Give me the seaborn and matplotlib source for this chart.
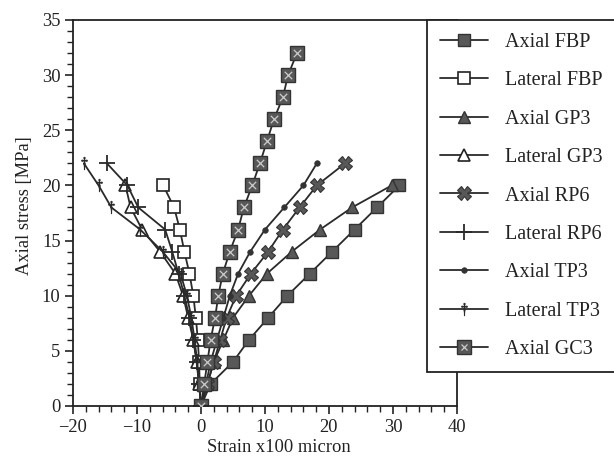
import numpy as np
import pandas as pd
import matplotlib
matplotlib.use("Agg")
import matplotlib.pyplot as plt
from matplotlib.lines import Line2D
from matplotlib.legend_handler import HandlerTuple
import seaborn as sns

# ---- data ----
y_fbp = [0, 2, 4, 6, 8, 10, 12, 14, 16, 18, 20]
axial_fbp = [0, 1.5, 5, 7.5, 10.5, 13.5, 17, 20.5, 24, 27.5, 31]
lateral_fbp = [0, -0.2, -0.3, -0.5, -0.8, -1.2, -1.8, -2.6, -3.3, -4.2, -5.9]

y_gp3 = [0, 2, 4, 6, 8, 10, 12, 14, 16, 18, 20]
axial_gp3 = [0, 1, 2, 3.5, 5, 7.5, 10.3, 14.2, 18.6, 23.6, 29.8]
lateral_gp3 = [0, -0.3, -0.6, -1.2, -2, -2.8, -4, -6.4, -9.2, -11, -11.8]

y_rp6 = [0, 2, 4, 6, 8, 10, 12, 14, 16, 18, 20, 22]
axial_rp6 = [0, 1, 2, 3, 4, 5.5, 7.8, 10.5, 12.8, 15.4, 18.1, 22.5]
lateral_rp6 = [0, -0.3, -0.7, -1.2, -1.8, -2.6, -3.5, -4.5, -5.6, -9.8, -11.5, -14.7]

y_tp3 = [0, 2, 4, 6, 8, 10, 12, 14, 16, 18, 20, 22]
axial_tp3 = [0, 0.8, 1.5, 2.5, 3.5, 4.5, 5.8, 7.7, 10, 13, 16, 18.1]
lateral_tp3 = [0, -0.3, -0.6, -1, -1.5, -2.2, -3.2, -6, -9.5, -14, -16, -18.3]

y_gc3 = [0, 2, 4, 6, 8, 10, 12, 14, 16, 18, 20, 22, 24, 26, 28, 30, 32]
axial_gc3 = [0, 0.5, 1, 1.5, 2.2, 2.7, 3.4, 4.5, 5.8, 6.7, 8, 9.2, 10.3, 11.4, 12.8, 13.6, 15]

labels = ["Axial FBP", "Lateral FBP", "Axial GP3", "Lateral GP3", "Axial RP6",
          "Lateral RP6", "Axial TP3", "Lateral TP3", "Axial GC3"]

sns.set_style("ticks")
plt.rcParams["font.family"] = ["Liberation Serif", "DejaVu Serif"]
plt.rcParams["mathtext.fontset"] = "stix"

fig = plt.figure(figsize=(6.14, 4.66), dpi=100)
ax = fig.add_axes([73/614, 1-406/466, (457-73)/614, (406-20)/466])

LC = "#2a2a2a"
FC = "#585858"
lw = 1.3

styles = {
    "Axial FBP": dict(marker="s", ms=9, mfc=FC, mec="#333333", mew=1),
    "Lateral FBP": dict(marker="s", ms=9, mfc="white", mec="#222222", mew=1.2),
    "Axial GP3": dict(marker="^", ms=9, mfc=FC, mec="#333333", mew=1),
    "Lateral GP3": dict(marker="^", ms=9, mfc="white", mec="#222222", mew=1.2),
    "Axial RP6": dict(marker="X", ms=10, mfc=FC, mec="#333333", mew=0.8),
    "Lateral RP6": dict(marker="+", ms=11, mfc=LC, mec=LC, mew=1.3),
    "Axial TP3": dict(marker="o", ms=4, mfc="#333333", mec="#333333", mew=0.5),
    "Lateral TP3": dict(marker=r"$\dagger$", ms=9, mfc=LC, mec=LC, mew=0.6),
    "Axial GC3": dict(marker="s", ms=10, mfc=FC, mec="#333333", mew=1),
}

series = [
    ("Axial FBP", axial_fbp, y_fbp),
    ("Lateral FBP", lateral_fbp, y_fbp),
    ("Axial GP3", axial_gp3, y_gp3),
    ("Lateral GP3", lateral_gp3, y_gp3),
    ("Axial RP6", axial_rp6, y_rp6),
    ("Lateral RP6", lateral_rp6, y_rp6),
    ("Axial TP3", axial_tp3, y_tp3),
    ("Lateral TP3", lateral_tp3, y_tp3),
    ("Axial GC3", axial_gc3, y_gc3),
]

for name, xs, ys in series:
    df = pd.DataFrame({"x": xs, "y": ys})
    sns.lineplot(data=df, x="x", y="y", ax=ax, sort=False, estimator=None,
                 color=LC, lw=lw, **styles[name])

# light crosses inside the GC3 squares
df_gc = pd.DataFrame({"x": axial_gc3, "y": y_gc3})
sns.scatterplot(data=df_gc, x="x", y="y", ax=ax, marker="x", s=28,
                color="#cccccc", linewidth=0.9, zorder=5)

ax.set_xlim(-20, 40)
ax.set_ylim(0, 35)
ax.set_xticks([-20, -10, 0, 10, 20, 30, 40])
ax.set_yticks([0, 5, 10, 15, 20, 25, 30, 35])
ax.set_xticks(np.arange(-20, 41, 2), minor=True)
ax.set_yticks(np.arange(0, 36, 1), minor=True)
ax.tick_params(which="major", length=6, width=1.2, color="#222222",
               labelsize=13.3, labelcolor="#222222", pad=3)
ax.tick_params(which="minor", length=4, width=1.0, color="#222222")
for s in ax.spines.values():
    s.set_linewidth(1.3)
    s.set_color("#222222")
ax.set_xlabel("Strain x100 micron", fontsize=13.3, color="#222222")
ax.set_ylabel("Axial stress [MPa]", fontsize=13.3, color="#222222")
ax.xaxis.set_label_coords(0.536, -0.085)
ax.yaxis.set_label_coords(-0.105, 0.52)

# legend
handles = []
for name in labels:
    st = styles[name]
    h = Line2D([], [], color=LC, lw=lw, **st)
    if name == "Axial GC3":
        hx = Line2D([], [], ls="none", marker="x", ms=5, mec="#cccccc", mew=0.9)
        h = (h, hx)
    handles.append(h)

leg = fig.legend(handles, labels, loc="upper left",
                 bbox_to_anchor=(427/614, 1-20/466), bbox_transform=fig.transFigure,
                 frameon=True, fancybox=False, edgecolor="#222222", facecolor="white",
                 framealpha=1, fontsize=14.5, labelspacing=0.96, handlelength=2.4,
                 handletextpad=0.85, borderpad=0.63, borderaxespad=0,
                 handler_map={tuple: HandlerTuple(ndivide=1, pad=0)})
leg.get_frame().set_linewidth(1.3)
for t in leg.get_texts():
    t.set_color("#222222")

fig.savefig("out.png", dpi=100)
